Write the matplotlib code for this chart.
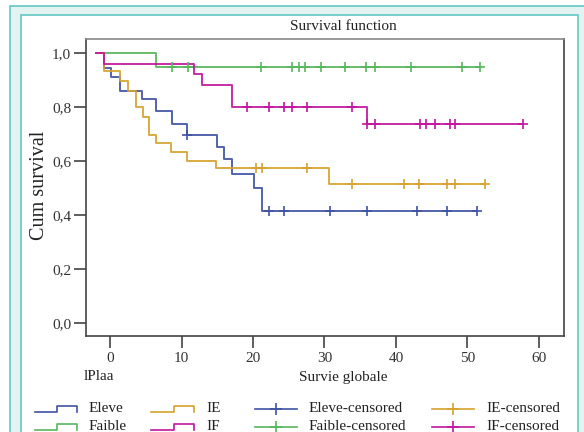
import matplotlib
matplotlib.use("Agg")
import numpy as np
import matplotlib.pyplot as plt
from matplotlib.patches import Rectangle
from matplotlib.lines import Line2D

plt.rcParams['font.family'] = ['Liberation Serif', 'DejaVu Serif']

# ---- data ----
groups = ['Eleve', 'Faible', 'IE', 'IF']
colors = ['#3f53a3', '#58b65c', '#d6a22e', '#c2169c']

eleve_t = [-1.9, -0.8, 0.2, 1.4, 4.5, 6.4, 8.7, 10.8, 15.0, 16.0, 17.0, 20.1, 21.3]
eleve_s = [1.0, 0.947, 0.913, 0.860, 0.831, 0.787, 0.739, 0.697, 0.654, 0.607, 0.552, 0.500, 0.417]
eleve_c = [10.8, 22.3, 24.4, 30.8, 35.9, 43.0, 47.2, 51.4]

faible_t = [-1.9, 6.5]
faible_s = [1.0, 0.948]
faible_c = [8.7, 10.9, 21.1, 25.5, 26.5, 27.3, 29.5, 32.8, 35.8, 37.0, 42.1, 49.3, 51.7]

ie_t = [-1.9, -0.8, 1.4, 2.5, 3.6, 4.6, 5.4, 6.4, 8.6, 10.8, 14.8, 30.7]
ie_s = [1.0, 0.934, 0.897, 0.862, 0.801, 0.765, 0.697, 0.667, 0.633, 0.602, 0.576, 0.515]
ie_c = [20.4, 21.3, 27.6, 33.9, 41.1, 43.2, 47.1, 48.3, 52.5]

if_t = [-1.9, -0.8, 11.8, 12.9, 17.1, 35.9]
if_s = [1.0, 0.959, 0.922, 0.881, 0.801, 0.737]
if_c = [19.2, 22.2, 24.3, 25.5, 27.6, 33.9, 35.9, 37.0, 43.3, 44.2, 45.4, 47.5, 48.3, 57.7]

x_ticks = [0, 10, 20, 30, 40, 50, 60]
y_ticks = [0.0, 0.2, 0.4, 0.6, 0.8, 1.0]
y_tick_labels = ['0,0', '0,2', '0,4', '0,6', '0,8', '1,0']

title = 'Survival function'
xlabel = 'Survie globale'
ylabel = 'Cum survival'
legend_title = 'lPlaa'

W, H = 584, 432
fig = plt.figure(figsize=(W / 100, H / 100), dpi=100)
fig.patch.set_facecolor('white')

def fx(px):
    return px / W

def fy(py):
    return 1 - py / H

# decorative frame
fig.patches.append(Rectangle((fx(10), fy(440)), fx(590) - fx(10), fy(6) - fy(440),
                             transform=fig.transFigure, facecolor='#e3f3f1',
                             edgecolor='#63c8c2', lw=1.2, zorder=-5))
fig.patches.append(Rectangle((fx(21), fy(440)), fx(578) - fx(21), fy(15) - fy(440),
                             transform=fig.transFigure, facecolor='white',
                             edgecolor='#63c8c2', lw=1.2, zorder=-4))

ax = fig.add_axes([fx(85.7), fy(336.3), fx(564) - fx(85.7), fy(39) - fy(336.3)])
ax.set_zorder(1)
ax.set_facecolor('white')

series = [(eleve_t, eleve_s, eleve_c), (faible_t, faible_s, faible_c),
          (ie_t, ie_s, ie_c), (if_t, if_s, if_c)]

for (t, s, c), col in zip(series, colors):
    t = np.array(t); s = np.array(s); c = np.array(c)
    tend = max(t[-1], c.max())
    tt = np.append(t, tend)
    ss = np.append(s, s[-1])
    ax.step(tt, ss, where='post', color=col, lw=1.4, alpha=0.9, zorder=2)
for (t, s, c), col in zip(series, colors):
    t = np.array(t); s = np.array(s); c = np.array(c)
    idx = np.searchsorted(t, c, side='right') - 1
    ax.plot(c, s[idx], ls='none', marker='+', ms=7.5, mew=1.2, color=col, zorder=3)

ax.set_xlim(-3.4, 63.5)
ax.set_ylim(-0.048, 1.053)
ax.set_xticks(x_ticks)
ax.set_xticklabels([str(v) for v in x_ticks])
ax.set_yticks(y_ticks)
ax.set_yticklabels(y_tick_labels)
ax.tick_params(axis='both', direction='out', length=8.5, width=1.1, color='#333333',
               labelsize=11, labelcolor='#333333')
ax.tick_params(axis='y', pad=2)
ax.tick_params(axis='x', pad=3)
for name, sp in ax.spines.items():
    sp.set_linewidth(1.2)
    sp.set_color('#444444')
ax.spines['top'].set_color('#888888')

ax.set_ylabel(ylabel, fontsize=14.5, color='#222222')
ax.yaxis.set_label_coords((40 - 85.7) / (564 - 85.7), (336.3 - 185) / (336.3 - 39))
ax.yaxis.label.set_va('center')
fig.text(fx(343), fy(27), title, ha='center', va='center', fontsize=11, color='#222222')
fig.text(fx(343), fy(377), xlabel, ha='center', va='center', fontsize=11, color='#222222')
fig.text(fx(84), fy(377), legend_title, ha='left', va='center', fontsize=11, color='#222222')

# legend (manual, 4 columns x 2 rows)
col_handle_x = [(35, 77), (151, 194), (255, 297), (432, 474)]
col_label_x = [89, 206, 309, 486]
row_y = [409, 427]
entries = [(groups[0], colors[0], 'step'), (groups[1], colors[1], 'step'),
           (groups[2], colors[2], 'step'), (groups[3], colors[3], 'step'),
           (groups[0] + '-censored', colors[0], 'cens'), (groups[1] + '-censored', colors[1], 'cens'),
           (groups[2] + '-censored', colors[2], 'cens'), (groups[3] + '-censored', colors[3], 'cens')]
for i, (lab, col, kind) in enumerate(entries):
    ci, ri = divmod(i, 2)
    x0, x1 = col_handle_x[ci]
    yc = row_y[ri]
    if kind == 'step':
        xm = (x0 + x1) / 2 + 1
        xs = [x0, xm, xm, x1, x1]
        ys = [yc + 3, yc + 3, yc - 3, yc - 3, yc + 3]
        fig.lines.append(Line2D([fx(v) for v in xs], [fy(v) for v in ys],
                                transform=fig.transFigure, color=col, lw=1.2))
    else:
        fig.lines.append(Line2D([fx(x0), fx(x1)], [fy(yc), fy(yc)],
                                transform=fig.transFigure, color=col, lw=1.2))
        fig.lines.append(Line2D([fx((x0 + x1) / 2)], [fy(yc)], transform=fig.transFigure,
                                color=col, marker='+', ms=8, mew=1.2, ls='none'))
    fig.text(fx(col_label_x[ci]), fy(yc), lab, ha='left', va='center', fontsize=11,
             color='#222222')

fig.savefig('out.png', dpi=100)
